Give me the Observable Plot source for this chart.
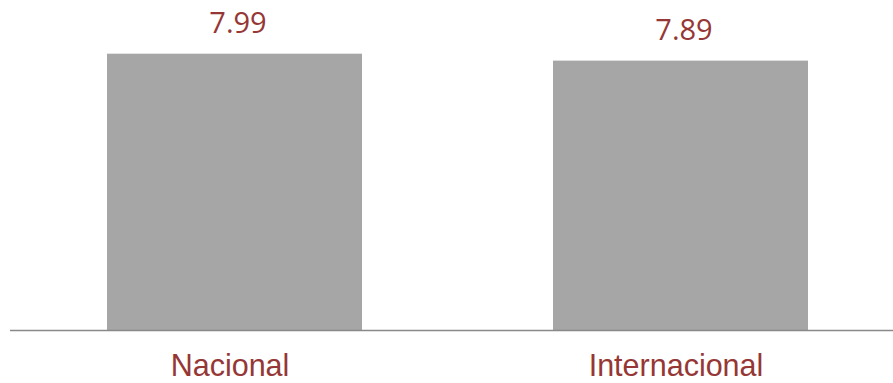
<!DOCTYPE html>
<html>
<head>
<meta charset="utf-8">
<script src="https://cdn.jsdelivr.net/npm/d3@7"></script>
<script src="https://cdn.jsdelivr.net/npm/@observablehq/plot@0.6"></script>
<style>
  html, body { margin: 0; padding: 0; background: #fff; }
  svg { display: block; }
</style>
</head>
<body>
<div id="chart"></div>
<script>
const categories = ["Nacional", "Internacional"];
const values = [7.99, 7.89];
const valueLabels = ["7.99", "7.89"];

const data = categories.map((c, i) => ({cat: c, value: values[i], label: valueLabels[i]}));

const red = "#953735";

const chart = Plot.plot({
  width: 893,
  height: 383,
  marginTop: 53,
  marginBottom: 53,
  marginLeft: 10,
  marginRight: 0,
  x: {domain: categories, range: [10.3, 903.7], paddingInner: 0.4285, paddingOuter: 0.214, axis: null},
  y: {domain: [4, 8], axis: null},
  marks: [
    Plot.barY(data, {x: "cat", y1: 4, y2: "value", fill: "#a6a6a6"}),
    Plot.ruleY([4], {stroke: "#898989", strokeWidth: 1.6}),
    Plot.text(data, {x: "cat", y: "value", text: "label", fill: red, fontSize: 29,
      fontFamily: "'Open Sans', sans-serif", dy: -30, dx: 3}),
    Plot.text(data, {x: "cat", y: 4, text: "cat", fill: red, fontSize: 30.5,
      fontFamily: "'Liberation Sans', Arial, sans-serif", dy: 36, dx: -5})
  ]
});
document.getElementById("chart").appendChild(chart);
</script>
</body>
</html>
